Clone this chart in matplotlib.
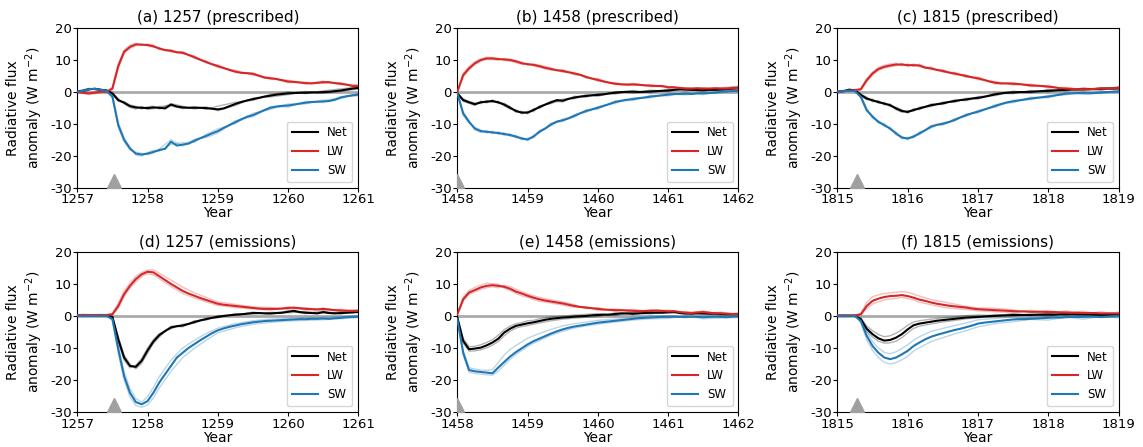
import matplotlib.pyplot as plt
import numpy as np

plt.rcParams['axes.unicode_minus'] = False

start_years = [1257, 1458, 1815, 1257, 1458, 1815]
titles = ["(a) 1257 (prescribed)", "(b) 1458 (prescribed)", "(c) 1815 (prescribed)",
          "(d) 1257 (emissions)", "(e) 1458 (emissions)", "(f) 1815 (emissions)"]
eruption_times = [1257.52, 1458.0, 1815.28, 1257.52, 1458.0, 1815.28]

n_months = 49
member_months = [0, 1, 2, 3, 4, 5, 6, 7, 8, 9, 10, 11, 12, 13, 14, 16, 18, 20, 22, 24,
                 27, 30, 33, 36, 39, 42, 45, 48]

# (a) 1257 prescribed
net_a = [0, 0.3, 0.8, 0.9, 0.6, 0.4, -0.5, -2.6, -3.4, -4.5, -4.9, -5, -5.1, -4.9, -5, -5.2,
         -4, -4.6, -4.9, -5, -5, -5, -5.1, -5.3, -5.5, -5.2, -4.5, -3.8, -3.2, -2.7, -2.3, -1.9,
         -1.5, -1.2, -0.9, -0.7, -0.5, -0.4, -0.3, -0.3, -0.2, -0.2, -0.1, 0, 0.2, 0.4, 0.7, 1.0, 1.2]
lw_a = [0, -0.3, -0.5, -0.3, 0, 0, 1.0, 8, 12.5, 14, 14.8, 14.7, 14.6, 14.2, 13.5, 13,
        12.8, 12.3, 12.2, 11.5, 10.8, 10, 9.3, 8.6, 8, 7.4, 6.8, 6.3, 5.9, 5.8, 5.6, 5,
        4.4, 4.2, 4, 3.6, 3.2, 3.1, 2.9, 2.7, 2.6, 2.8, 3, 3.0, 2.7, 2.5, 2.2, 1.8, 1.8]
sw_a = [0, 0.3, 0.8, 0.9, 0.6, 0.3, -1.5, -10.4, -15, -17.7, -19.3, -19.6, -19.3, -18.8, -18.2, -17.8,
        -15.6, -16.8, -16.5, -16.2, -15.3, -14.5, -13.8, -13, -12.3, -11.3, -10.4, -9.5, -8.6, -7.8,
        -7.3, -6.5, -5.7, -5, -4.6, -4.4, -4.3, -4, -3.7, -3.4, -3.2, -3.1, -3, -2.9, -2.5, -1.8,
        -1.4, -1.1, -0.9]
net_a_ens = [
    [0.2, 0.6, 1.0, 0.7, 0.4, 0.5, -0.3, -2.2, -3.8, -4.9, -5.4, -4.6, -5.5, -5.3, -4.6, -4.4,
     -5.3, -4.6, -5.5, -4.5, -3.3, -2.7, -0.8, -0.1, -0.6, 0.3, 0.9, 1.5],
    [-0.2, 0.1, 0.6, 1.1, 0.8, 0.2, -0.8, -3.0, -3.1, -4.1, -4.5, -5.4, -4.7, -4.5, -5.4, -3.7,
     -4.5, -5.4, -4.7, -5.9, -4.3, -2.0, -1.6, -0.9, 0.1, -0.5, 0.1, 0.9]]
lw_a_ens = [
    [0.3, 0.1, -0.2, 0.1, 0.2, 0.1, 1.5, 8.8, 13.0, 14.6, 15.1, 14.5, 14.9, 14.6, 13.2, 13.1,
     11.8, 11.2, 9.0, 8.4, 6.0, 5.9, 3.9, 3.6, 2.4, 3.3, 2.2, 2.3],
    [-0.4, -0.6, -0.9, -0.6, -0.3, -0.2, 0.6, 7.3, 12.0, 13.5, 14.4, 14.9, 14.3, 13.9, 13.8, 12.4,
     12.5, 10.4, 9.6, 7.6, 6.7, 5.2, 4.5, 2.8, 3.0, 2.6, 2.8, 1.5]]
sw_a_ens = [
    [0.3, 0.6, 1.1, 0.7, 0.4, 0.5, -1.0, -9.6, -14.4, -17.3, -19.8, -20.1, -19.0, -18.3, -18.6, -16.4,
     -15.9, -15.8, -13.3, -11.6, -9.9, -6.7, -5.5, -3.8, -3.8, -2.6, -2.1, -0.5],
    [-0.3, 0.1, 0.6, 1.1, 0.8, 0.2, -2.0, -11.1, -15.6, -18.2, -18.9, -19.2, -19.7, -19.2, -17.8, -15.0,
     -17.0, -14.8, -14.3, -12.9, -9.0, -7.8, -4.6, -4.8, -3.0, -3.4, -1.5, -1.3]]

# (b) 1458 prescribed
net_b = [-0.5, -2.6, -3.3, -3.9, -3.3, -3.1, -2.9, -3.3, -4, -5, -6, -6.5, -6.5, -5.7, -4.8, -4,
         -3.3, -2.6, -2.8, -2.2, -1.8, -1.5, -1.3, -1.1, -1.0, -0.8, -0.5, -0.3, -0.1, 0, 0, -0.1,
         0, 0.1, 0.2, 0.3, 0.4, 0.6, 0.8, 0.7, 0.6, 0.5, 0.5, 0.6, 0.6, 0.7, 0.8, 1.0, 1.2]
lw_b = [0, 5.2, 7.3, 8.9, 9.9, 10.4, 10.4, 10.2, 10.1, 9.9, 9.5, 8.9, 8.6, 8.4, 8, 7.5,
        7.1, 6.7, 6.5, 6.1, 5.7, 5.3, 4.6, 4.1, 3.7, 3.2, 2.8, 2.5, 2.3, 2.2, 2.3, 2.2,
        2.0, 1.9, 1.8, 1.8, 1.4, 1.4, 1.2, 1.0, 1.0, 1.1, 1.0, 1.0, 1.1, 1.0, 1.0, 1.1, 1.2]
sw_b = [-0.5, -6.8, -9.4, -11.5, -12.3, -12.5, -12.7, -12.9, -13.2, -13.5, -14, -14.6, -14.9, -14, -12.5,
        -11.5, -10.2, -9.3, -8.9, -8.3, -7.5, -6.7, -6, -5.5, -5.0, -4.4, -3.8, -3.2, -2.8, -2.5,
        -2.3, -2.0, -1.8, -1.5, -1.3, -1.1, -0.9, -0.7, -0.7, -0.6, -0.7, -0.5, -0.5, -0.4, -0.3,
        0, 0.1, 0.2, 0.3]
net_b_ens = [
    [-0.5, -2.2, -3.0, -3.5, -3.7, -2.7, -3.3, -3.0, -4.4, -5.4, -5.6, -6.9, -6.1, -6.2, -4.4, -3.7,
     -2.3, -2.2, -0.9, -1.4, 0.1, -0.4, 0.5, 0.1, 1.1, 0.2, 1.0, 1.7],
    [-0.5, -3.0, -3.6, -4.3, -2.9, -3.5, -2.5, -3.7, -3.6, -4.6, -6.4, -6.1, -6.9, -5.3, -5.2, -2.9,
     -3.2, -1.4, -1.7, -0.6, -0.7, 0.4, -0.3, 0.7, 0.3, 0.9, 0.4, 0.8]]
lw_b_ens = [
    [0, 5.8, 7.9, 9.4, 10.3, 10.8, 10.7, 10.4, 9.8, 9.6, 9.1, 8.6, 8.9, 8.1, 7.6, 6.7,
     6.9, 5.3, 4.9, 3.3, 2.8, 2.0, 2.2, 1.1, 1.3, 0.8, 1.3, 1.6],
    [0, 4.6, 6.8, 8.5, 9.6, 10.1, 10.0, 9.9, 10.4, 10.2, 9.8, 9.3, 8.3, 8.7, 8.3, 7.5,
     6.1, 6.0, 4.3, 4.1, 2.2, 2.6, 1.6, 1.7, 0.8, 1.2, 0.7, 0.9]]
sw_b_ens = [
    [-0.5, -6.2, -9.0, -11.9, -12.7, -12.1, -13.1, -12.5, -13.6, -13.1, -14.4, -14.2, -15.3, -13.6, -12.9,
     -9.8, -9.3, -7.1, -6.4, -4.6, -3.6, -1.9, -1.9, -0.5, -1.0, -0.1, -0.4, 0.7],
    [-0.5, -7.4, -9.8, -11.1, -11.9, -12.9, -12.3, -13.3, -12.8, -13.9, -13.6, -15.0, -14.5, -14.4, -12.1,
     -10.6, -8.5, -7.9, -5.6, -5.4, -2.8, -2.7, -1.1, -1.3, -0.2, -0.9, 0.4, -0.1]]

# (c) 1815 prescribed
net_c = [0, 0.2, 0.6, 0.5, -1, -2.1, -2.7, -3.2, -3.7, -4.2, -5.2, -6, -6.3, -5.7, -5.2, -4.7,
         -4.2, -3.9, -3.6, -3.2, -2.9, -2.6, -2.4, -2.1, -1.9, -1.6, -1.2, -0.8, -0.5, -0.3, -0.2,
         -0.1, -0.1, 0, 0.1, 0.2, 0.3, 0.4, 0.5, 0.6, 0.7, 0.7, 0.8, 0.8, 0.8, 0.9, 1.0, 1.0, 1.1]
lw_c = [0, 0.2, 0.3, 0.5, 0.8, 3.6, 5.7, 7.1, 7.8, 8.2, 8.5, 8.5, 8.3, 8.3, 8.2, 7.5,
        7.3, 6.8, 6.5, 6.0, 5.7, 5.3, 4.9, 4.5, 4.2, 3.7, 3.2, 2.8, 2.6, 2.6, 2.5, 2.4,
        2.2, 2.0, 1.9, 1.8, 1.6, 1.4, 1.1, 1.0, 0.9, 0.8, 0.8, 0.8, 0.9, 1.0, 1.0, 1.1, 1.2]
sw_c = [0, 0.1, 0.4, 0.2, -1.6, -5.7, -7.8, -9.4, -10.4, -11.5, -13, -14.3, -14.6, -14, -13, -12,
        -10.9, -10.3, -10, -9.5, -8.8, -8, -7.3, -6.7, -6.2, -5.6, -5, -4.4, -3.8, -3.3, -3,
        -2.7, -2.4, -2.1, -1.9, -1.7, -1.5, -1.2, -0.9, -0.6, -0.5, -0.4, -0.4, -0.5, -0.4,
        -0.2, -0.1, 0, 0.1]
net_c_ens = [
    [0.2, 0.0, 0.9, 0.3, -0.7, -1.7, -3.1, -2.8, -4.1, -3.8, -5.6, -6.4, -5.9, -6.1, -4.8, -4.6,
     -3.2, -3.3, -2.0, -2.3, -0.4, -0.6, 0.4, -0.1, 1.0, 0.4, 1.3, 0.7],
    [-0.2, 0.4, 0.3, 0.7, -1.3, -2.5, -2.3, -3.6, -3.3, -4.6, -4.8, -5.6, -6.7, -5.3, -5.6, -3.8,
     -4.0, -2.5, -2.8, -1.5, -1.2, 0.2, -0.4, 0.7, 0.2, 1.2, 0.5, 1.5]]
lw_c_ens = [
    [0.3, 0.0, 0.5, 0.2, 1.1, 4.1, 6.2, 7.6, 8.3, 8.7, 8.9, 8.1, 8.7, 7.9, 8.6, 6.9,
     6.9, 5.3, 5.3, 3.8, 3.2, 2.1, 2.4, 1.2, 1.4, 0.5, 1.3, 0.9],
    [-0.3, 0.4, 0.1, 0.8, 0.5, 3.1, 5.2, 6.7, 7.4, 7.8, 8.1, 8.9, 7.9, 8.7, 7.8, 7.7,
     6.1, 6.1, 4.5, 4.6, 2.4, 2.9, 1.6, 2.0, 0.6, 1.1, 0.7, 1.6]]
sw_c_ens = [
    [0.2, -0.1, 0.7, 0.0, -1.2, -5.2, -8.3, -9.0, -10.9, -11.1, -13.5, -13.9, -15.0, -13.6, -13.4,
     -10.5, -10.4, -8.4, -7.7, -5.8, -4.8, -2.6, -2.5, -1.1, -1.0, 0.0, -0.6, 0.5],
    [-0.2, 0.3, 0.1, 0.4, -2.0, -6.2, -7.4, -9.8, -9.9, -11.9, -12.5, -14.7, -14.2, -14.4, -12.6,
     -11.3, -9.6, -9.2, -6.9, -6.6, -4.0, -3.4, -1.7, -1.9, -0.2, -0.8, 0.2, -0.3]]

# (d) 1257 emissions
net_d = [0.2, 0.2, 0.2, 0.2, 0.2, 0.2, -0.3, -7.3, -13, -15.6, -15.9, -14, -10.8, -8, -6, -4.7,
         -3.6, -3.2, -3.0, -2.5, -1.9, -1.4, -1.0, -0.6, -0.3, 0, 0.2, 0.4, 0.5, 0.7, 0.9, 0.9,
         0.8, 0.8, 0.9, 1.0, 1.3, 1.6, 1.2, 1.0, 0.9, 0.8, 1.2, 0.9, 0.8, 0.9, 1.0, 1.1, 1.3]
lw_d = [0.3, 0.3, 0.3, 0.3, 0.3, 0.3, 0.5, 3.1, 6.8, 9.4, 11.5, 13, 13.8, 13.6, 12.4, 11.2,
        10, 8.9, 7.8, 7, 6.3, 5.6, 5, 4.4, 3.8, 3.5, 3.3, 3.1, 2.9, 2.7, 2.5, 2.3,
        2.2, 2.2, 2.2, 2.3, 2.5, 2.6, 2.4, 2.2, 2.1, 2.0, 2.2, 2.0, 1.8, 1.7, 1.6, 1.6, 1.6]
sw_d = [0, 0, 0, 0, 0, 0, -1.0, -10.4, -18.8, -24, -26.9, -27.6, -26.6, -24, -20.8, -18.2,
        -15.6, -13, -11.5, -10, -8.8, -7.6, -6.5, -5.4, -4.5, -3.9, -3.4, -3.0, -2.6, -2.3,
        -2.0, -1.8, -1.6, -1.5, -1.4, -1.3, -1.2, -1.1, -1.0, -1.0, -0.9, -0.9, -0.8, -0.9,
        -0.7, -0.6, -0.4, -0.3, -0.2]
net_d_ens = [
    [0.4, 0.0, 0.3, 0.1, 0.4, 0.1, -0.1, -6.5, -12.2, -15.1, -16.5, -14.8, -11.6, -8.6, -6.6, -3.2,
     -3.4, -1.5, -1.3, 0.1, 0.2, 1.2, 0.5, 1.6, 0.7, 1.5, 0.6, 1.6],
    [0.0, 0.4, 0.1, 0.3, 0.0, 0.3, -0.6, -8.1, -13.8, -16.2, -15.4, -13.3, -10.0, -7.4, -5.5, -4.0,
     -2.6, -2.3, -0.7, -0.6, 0.7, 0.6, 1.1, 1.0, 1.3, 0.9, 1.2, 1.0]]
lw_d_ens = [
    [0.5, 0.1, 0.4, 0.2, 0.5, 0.2, 0.8, 4.0, 7.8, 10.3, 12.4, 13.6, 14.3, 14.4, 13.3, 11.2,
     9.0, 7.2, 5.8, 4.4, 3.6, 2.8, 2.6, 2.1, 2.6, 1.8, 2.1, 1.3],
    [0.1, 0.5, 0.2, 0.4, 0.1, 0.4, 0.3, 2.4, 6.0, 8.6, 10.7, 12.3, 13.2, 12.8, 11.6, 9.2,
     7.0, 5.6, 4.4, 3.3, 2.6, 2.2, 1.8, 2.8, 1.8, 2.5, 1.4, 1.9]]
sw_d_ens = [
    [0.2, -0.2, 0.1, -0.1, 0.2, 0.0, -0.6, -9.2, -17.5, -22.6, -25.8, -26.9, -25.2, -22.3, -19.0,
     -13.8, -10.0, -7.6, -5.5, -3.8, -2.4, -1.5, -1.0, -0.8, -0.5, -0.4, -0.2, 0.1],
    [-0.2, 0.1, -0.1, 0.2, -0.1, 0.1, -1.4, -11.6, -20.0, -25.3, -28.0, -28.5, -27.8, -25.6, -22.5,
     -17.3, -13.0, -10.1, -7.6, -5.3, -3.7, -2.6, -2.0, -1.6, -1.4, -1.2, -0.9, -0.5]]

# (e) 1458 emissions
net_e = [-0.5, -7.8, -10.4, -10.2, -9.9, -9.2, -8.3, -7.1, -5.2, -4, -3.1, -2.7, -2.3, -2.0, -1.6,
         -1.2, -0.9, -0.7, -0.5, -0.4, -0.2, -0.1, 0, 0.2, 0.3, 0.4, 0.4, 0.6, 0.8, 0.8, 0.7,
         0.8, 0.9, 1.0, 1.0, 1.0, 1.2, 1.3, 0.9, 0.8, 0.7, 0.8, 0.8, 0.7, 0.7, 0.6, 0.5, 0.5, 0.5]
lw_e = [0.5, 5.2, 7.3, 8.1, 8.9, 9.4, 9.6, 9.4, 9.1, 8.5, 7.6, 7.0, 6.3, 5.7, 5.2, 4.8,
        4.5, 4.2, 3.9, 3.5, 3.1, 2.8, 2.6, 2.4, 2.2, 2.0, 1.9, 1.8, 1.8, 1.7, 1.6, 1.5,
        1.5, 1.6, 1.7, 1.6, 1.4, 1.5, 1.2, 1.0, 0.9, 1.1, 1.2, 1.0, 0.8, 0.8, 0.7, 0.6, 0.6]
sw_e = [-1, -11.5, -16.9, -17.3, -17.5, -17.7, -17.9, -16.1, -14.4, -12.7, -11.3, -10.1, -8.9,
        -7.9, -7.1, -6.3, -5.5, -4.8, -4.2, -3.7, -3.3, -3.0, -2.7, -2.4, -2.1, -1.9, -1.7,
        -1.5, -1.3, -1.1, -0.9, -0.7, -0.6, -0.5, -0.4, -0.3, -0.3, -0.2, -0.3, -0.3, -0.2,
        -0.3, -0.4, -0.3, -0.2, -0.3, -0.4, -0.2, -0.1]
net_e_ens = [
    [-0.5, -7.0, -9.6, -9.5, -9.0, -8.3, -7.4, -6.0, -4.3, -3.2, -2.4, -2.1, -1.5, -1.4, -0.9,
     -0.3, -0.1, 0.3, 0.5, 0.7, 0.1, 1.1, 0.6, 1.6, 0.4, 1.2, 0.2, 0.9],
    [-0.5, -8.5, -11.0, -10.9, -10.6, -10.0, -9.1, -8.0, -6.2, -4.8, -3.8, -3.3, -3.0, -2.6, -2.2,
     -1.5, -1.0, -0.7, -0.4, -0.2, 1.0, 0.4, 1.3, 0.8, 1.1, 0.5, 0.9, 0.2]]
lw_e_ens = [
    [0.5, 5.9, 8.0, 8.9, 9.6, 10.2, 10.1, 9.9, 8.6, 8.0, 7.0, 6.3, 5.8, 5.1, 4.6, 4.0,
     3.4, 2.7, 2.9, 1.7, 2.2, 1.1, 2.0, 0.9, 1.4, 0.8, 1.2, 0.4],
    [0.5, 4.6, 6.7, 7.5, 8.3, 8.8, 9.1, 8.8, 9.6, 9.2, 8.3, 7.6, 6.9, 6.3, 5.8, 5.0,
     4.4, 3.5, 2.3, 2.6, 1.4, 2.1, 1.3, 1.8, 0.7, 1.6, 0.5, 0.8]]
sw_e_ens = [
    [-1.0, -10.8, -16.2, -16.6, -16.9, -17.0, -16.8, -14.5, -12.2, -10.5, -9.2, -8.1, -7.0, -6.2,
     -5.5, -4.2, -3.1, -2.4, -1.9, -1.4, -1.0, -0.5, 0.0, 0.1, -0.6, 0.2, -0.1, 0.3],
    [-1.0, -12.2, -17.6, -18.0, -18.2, -18.4, -18.5, -17.2, -15.4, -13.6, -12.0, -10.8, -9.6, -8.5,
     -7.7, -6.0, -4.8, -3.8, -3.1, -2.6, -1.9, -1.3, -0.9, -0.8, 0.1, -0.9, -0.6, -0.5]]

# (f) 1815 emissions
net_f = [0, 0, 0, 0, -1, -4, -5.7, -7, -7.7, -7.5, -6.8, -5.7, -4.2, -2.9, -2.4, -2.1,
         -1.8, -1.5, -1.3, -1.1, -0.9, -0.7, -0.5, -0.4, -0.3, -0.2, -0.1, 0, 0.1, 0.2, 0.3,
         0.3, 0.3, 0.3, 0.4, 0.4, 0.4, 0.4, 0.5, 0.5, 0.5, 0.5, 0.5, 0.4, 0.3, 0.3, 0.3, 0.3, 0.3]
lw_f = [0.2, 0.2, 0.2, 0.2, 0.5, 3.1, 4.7, 5.4, 5.9, 6.2, 6.3, 6.5, 6.2, 5.7, 5.1, 4.7,
        4.2, 3.8, 3.5, 3.2, 3.0, 2.8, 2.6, 2.3, 2.1, 2.0, 1.9, 1.8, 1.7, 1.6, 1.5, 1.4,
        1.4, 1.3, 1.3, 1.3, 1.2, 1.2, 1.1, 1.1, 1.0, 1.0, 0.9, 0.9, 0.9, 0.8, 0.8, 0.8, 0.8]
sw_f = [0, 0, 0, 0, -1.6, -6.2, -9.4, -11.5, -13, -13.5, -13, -12, -10.9, -9.4, -8.3, -7.3,
        -6.5, -5.9, -5.4, -4.9, -4.4, -4.0, -3.5, -3.0, -2.4, -2.1, -1.9, -1.7, -1.5, -1.3,
        -1.1, -1.0, -1.0, -0.9, -0.8, -0.7, -0.6, -0.5, -0.5, -0.4, -0.3, -0.3, -0.3, -0.2,
        -0.2, -0.3, -0.2, -0.1, 0]
net_f_ens = [
    [0.2, -0.2, 0.1, -0.1, -0.6, -3.2, -4.6, -5.8, -6.5, -6.2, -5.4, -4.3, -2.9, -1.9, -1.5, -1.0,
     -0.6, -0.3, 0.1, 0.3, 0.1, 0.7, 0.1, 0.9, 0.2, 1.0, -0.1, 0.7],
    [-0.2, 0.1, -0.1, 0.2, -1.4, -4.8, -6.6, -7.9, -8.5, -8.4, -7.9, -6.8, -5.3, -3.9, -3.2, -2.5,
     -1.9, -1.4, -0.9, -0.6, 0.5, -0.1, 0.6, -0.2, 0.9, 0.1, 0.7, 0.0]]
lw_f_ens = [
    [0.4, 0.0, 0.3, 0.1, 0.8, 4.2, 6.0, 6.6, 7.0, 7.2, 7.4, 7.6, 7.4, 6.8, 6.2, 5.1,
     4.4, 3.7, 3.0, 2.5, 2.4, 1.9, 1.1, 1.7, 0.8, 1.5, 0.4, 1.2],
    [0.0, 0.3, 0.1, 0.3, 0.3, 2.2, 3.7, 4.4, 5.0, 5.3, 5.5, 5.8, 5.4, 5.0, 4.3, 3.5,
     2.7, 2.3, 2.0, 1.6, 1.3, 1.0, 1.8, 0.8, 1.6, 0.5, 1.3, 0.4]]
sw_f_ens = [
    [0.2, -0.1, 0.1, -0.2, -1.0, -5.0, -8.0, -10.0, -11.4, -11.8, -11.2, -10.2, -9.0, -7.6, -6.5,
     -4.8, -3.9, -3.0, -2.2, -1.2, -0.8, -0.2, -0.5, 0.2, -0.3, 0.3, -0.6, 0.4],
    [-0.2, 0.1, -0.1, 0.1, -2.2, -7.4, -10.8, -13.0, -14.5, -15.0, -14.6, -13.7, -12.6, -11.0, -9.9,
     -8.0, -6.8, -5.6, -4.6, -3.4, -2.4, -1.8, -1.1, -1.3, -0.4, -1.0, -0.2, -0.6]]

panels = [
    (net_a, lw_a, sw_a, net_a_ens, lw_a_ens, sw_a_ens),
    (net_b, lw_b, sw_b, net_b_ens, lw_b_ens, sw_b_ens),
    (net_c, lw_c, sw_c, net_c_ens, lw_c_ens, sw_c_ens),
    (net_d, lw_d, sw_d, net_d_ens, lw_d_ens, sw_d_ens),
    (net_e, lw_e, sw_e, net_e_ens, lw_e_ens, sw_e_ens),
    (net_f, lw_f, sw_f, net_f_ens, lw_f_ens, sw_f_ens),
]

colors = {'Net': 'black', 'LW': '#d62728', 'SW': '#1f77b4'}

fig, axes = plt.subplots(2, 3, figsize=(11.43, 4.47), dpi=100)
fig.subplots_adjust(left=0.0676, right=0.9786, bottom=0.0783, top=0.938,
                    wspace=0.352, hspace=0.40)

for i, ax in enumerate(axes.flat):
    y0 = start_years[i]
    t = y0 + np.arange(n_months) / 12
    tm = y0 + np.array(member_months) / 12
    net, lw, sw, net_ens, lw_ens, sw_ens = panels[i]

    ax.axhline(0, color='#aaaaaa', lw=2, zorder=1)
    for name, ens in (('Net', net_ens), ('LW', lw_ens), ('SW', sw_ens)):
        for member in ens:
            ax.plot(tm, member, color=colors[name], lw=1, alpha=0.3, zorder=2)
    ax.plot(t, net, color=colors['Net'], lw=1.5, label='Net', zorder=3)
    ax.plot(t, lw, color=colors['LW'], lw=1.5, label='LW', zorder=3)
    ax.plot(t, sw, color=colors['SW'], lw=1.5, label='SW', zorder=3)

    ax.plot(eruption_times[i], -27.8, marker='^', ms=10, color='#a0a0a0', zorder=4)

    ax.set_xlim(y0, y0 + 4)
    ax.set_ylim(-30, 20)
    ax.set_xticks(range(y0, y0 + 5))
    ax.set_yticks([-30, -20, -10, 0, 10, 20])
    ax.tick_params(labelsize=9.5, length=3, pad=1)
    ax.set_title(titles[i], fontsize=11, pad=4)
    ax.set_xlabel('Year', fontsize=10, labelpad=0)
    ax.set_ylabel('Radiative flux\nanomaly (W m$^{-2}$)', fontsize=10)
    ax.yaxis.set_label_coords(-0.115, 0.5)
    ax.legend(loc='lower right', fontsize=8.5, handlelength=2.2)

fig.savefig('out.png', dpi=100)
